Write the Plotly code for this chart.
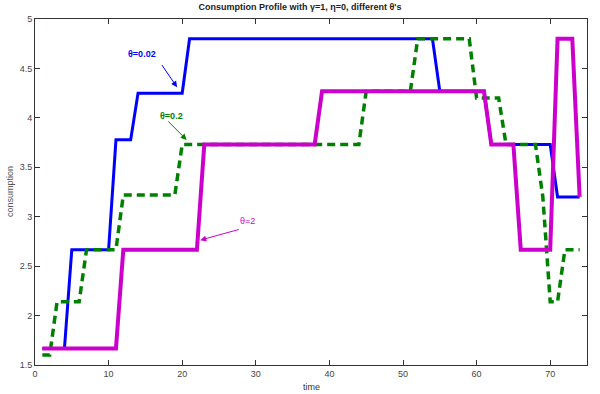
import plotly.graph_objects as go

time = list(range(1, 75))

theta_002 = [1.667, 1.667, 1.667, 1.667,
             2.667, 2.667, 2.667, 2.667, 2.667, 2.667,
             3.778, 3.778, 3.778,
             4.25, 4.25, 4.25, 4.25, 4.25, 4.25, 4.25,
             4.8, 4.8, 4.8, 4.8, 4.8, 4.8, 4.8, 4.8, 4.8, 4.8,
             4.8, 4.8, 4.8, 4.8, 4.8, 4.8, 4.8, 4.8, 4.8, 4.8,
             4.8, 4.8, 4.8, 4.8, 4.8, 4.8, 4.8, 4.8, 4.8, 4.8,
             4.8, 4.8, 4.8, 4.8,
             4.27, 4.27, 4.27, 4.27, 4.27, 4.27, 4.27,
             3.73, 3.73, 3.73, 3.73, 3.73, 3.73, 3.73, 3.73, 3.73,
             3.2, 3.2, 3.2, 3.2]

theta_02 = [1.6, 1.6,
            2.14, 2.14, 2.14, 2.14,
            2.667, 2.667, 2.667, 2.667, 2.667,
            3.22, 3.22, 3.22, 3.22, 3.22, 3.22, 3.22, 3.22,
            3.73, 3.73, 3.73, 3.73, 3.73, 3.73, 3.73, 3.73, 3.73, 3.73,
            3.73, 3.73, 3.73, 3.73, 3.73, 3.73, 3.73, 3.73, 3.73, 3.73,
            3.73, 3.73, 3.73, 3.73, 3.73,
            4.27, 4.27, 4.27, 4.27, 4.27, 4.27, 4.27,
            4.8, 4.8, 4.8, 4.8, 4.8, 4.8, 4.8, 4.8,
            4.2, 4.2, 4.2, 4.2,
            3.73, 3.73, 3.73, 3.73, 3.73,
            3.2,
            2.14, 2.14,
            2.667, 2.667, 2.667]

theta_2 = [1.667, 1.667, 1.667, 1.667, 1.667, 1.667, 1.667, 1.667, 1.667, 1.667, 1.667,
           2.667, 2.667, 2.667, 2.667, 2.667, 2.667, 2.667, 2.667, 2.667, 2.667, 2.667,
           3.73, 3.73, 3.73, 3.73, 3.73, 3.73, 3.73, 3.73, 3.73, 3.73,
           3.73, 3.73, 3.73, 3.73, 3.73, 3.73,
           4.27, 4.27, 4.27, 4.27, 4.27, 4.27, 4.27, 4.27, 4.27, 4.27, 4.27,
           4.27, 4.27, 4.27, 4.27, 4.27, 4.27, 4.27, 4.27, 4.27, 4.27, 4.27, 4.27,
           3.73, 3.73, 3.73, 3.73,
           2.667, 2.667, 2.667, 2.667, 2.667,
           4.8, 4.8, 4.8,
           3.2, 3.2]

x_ticks = [0, 10, 20, 30, 40, 50, 60, 70]
y_ticks = [1.5, 2, 2.5, 3, 3.5, 4, 4.5, 5]

BLUE = "rgb(0,0,255)"
GREEN = "rgb(0,128,0)"
MAGENTA = "rgb(204,0,204)"
FONT = "Liberation Sans, Arial, sans-serif"

fig = go.Figure()
fig.add_trace(go.Scatter(x=time, y=theta_002, mode="lines",
                         line=dict(color=BLUE, width=3), name="θ=0.02"))
fig.add_trace(go.Scatter(x=time, y=theta_02, mode="lines",
                         line=dict(color=GREEN, width=3.5, dash="8px,5px"), name="θ=0.2"))
fig.add_trace(go.Scatter(x=time, y=theta_2, mode="lines",
                         line=dict(color=MAGENTA, width=4), name="θ=2"))

annotations = [
    # labels
    dict(x=14.5, y=4.645, text="<b>θ=0.02</b>", showarrow=False,
         font=dict(color=BLUE, size=9, family=FONT)),
    dict(x=18.6, y=4.02, text="<b>θ=0.2</b>", showarrow=False,
         font=dict(color=GREEN, size=9, family=FONT)),
    dict(x=28.9, y=2.956, text="θ=2", showarrow=False,
         font=dict(color=MAGENTA, size=9, family=FONT)),
    # arrows
    dict(x=19.3, y=4.31, ax=17.1, ay=4.55, axref="x", ayref="y", text="",
         showarrow=True, arrowhead=2, arrowsize=1.2, arrowwidth=1, arrowcolor=BLUE),
    dict(x=20.6, y=3.777, ax=17.9, ay=3.98, axref="x", ayref="y", text="",
         showarrow=True, arrowhead=2, arrowsize=1.2, arrowwidth=1, arrowcolor=GREEN),
    dict(x=22.45, y=2.763, ax=27.9, ay=2.875, axref="x", ayref="y", text="",
         showarrow=True, arrowhead=2, arrowsize=1.2, arrowwidth=1, arrowcolor=MAGENTA),
    # axis titles
    dict(x=0.5, y=0, xref="paper", yref="paper", yshift=-22, text="time",
         showarrow=False, font=dict(size=9, family=FONT, color="#333"),
         xanchor="center", yanchor="middle"),
    dict(x=0, y=0.5, xref="paper", yref="paper", xshift=-25, text="consumption",
         textangle=-90, showarrow=False, font=dict(size=9, family=FONT, color="#555"),
         xanchor="center", yanchor="middle"),
]

fig.update_layout(
    width=600, height=394,
    margin=dict(l=35, r=13, t=19, b=29),
    paper_bgcolor="white", plot_bgcolor="white",
    showlegend=False,
    title=dict(text="<b>Consumption Profile with γ=1, η=0, different θ's</b>",
               x=0.5, xanchor="center", y=0.99, yanchor="top",
               font=dict(size=9, family=FONT, color="#222")),
    annotations=annotations,
    xaxis=dict(range=[0, 75], tickvals=x_ticks, ticks="inside", ticklen=5,
               showline=True, linecolor="#333", linewidth=1, mirror="ticks",
               tickcolor="#333", showgrid=False, zeroline=False, automargin=False,
               tickfont=dict(size=9, family=FONT, color="#444")),
    yaxis=dict(range=[1.5, 5], tickvals=y_ticks, ticks="inside", ticklen=5,
               showline=True, linecolor="#333", linewidth=1, mirror="ticks",
               tickcolor="#333", showgrid=False, zeroline=False, automargin=False,
               tickfont=dict(size=9, family=FONT, color="#444")),
)

fig.write_html("out.html", config={"displayModeBar": False},
               post_script="document.body.style.margin='0';document.body.style.overflow='hidden';")
